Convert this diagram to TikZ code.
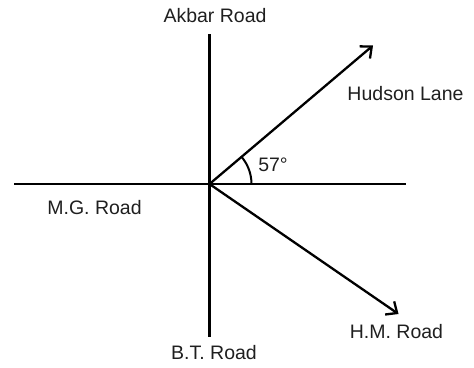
\documentclass[tikz,border=0pt]{standalone}
\usepackage{fontspec}
\setmainfont{Liberation Sans}
\usetikzlibrary{arrows.meta}
\begin{document}
\begin{tikzpicture}[x=1pt,y=-1pt,
  road/.style={line width=2.3pt, draw=black},
  arrowroad/.style={road, -{Straight Barb[length=9pt,width=16pt,line width=2.3pt]}},
  lbl/.style={font=\fontsize{19.5}{22}\selectfont, text=black!88, inner sep=0pt}]
\useasboundingbox (0,0) rectangle (474,367);
\coordinate (O) at (209.5,184);
\coordinate (N) at (209.5,34);
\coordinate (S) at (209.5,337);
\coordinate (W) at (14,184);
\coordinate (E) at (406,184);
\coordinate (HL) at (373,45.5);
\coordinate (HM) at (398.5,314);
\draw[road] (N) -- (S);
\draw[road] (W) -- (E);
\draw[arrowroad] (O) -- (HL);
\draw[arrowroad] (O) -- (HM);
\draw[line width=2pt] ([xshift=42pt]O) arc[start angle=0, end angle=-40.3, radius=42];
\node[lbl] (akbar) at (215,16) {Akbar Road};
\node[lbl] (hudson) at (405.5,94) {Hudson Lane};
\node[lbl] (mg) at (94.5,207.5) {M.G. Road};
\node[lbl] (bt) at (214,352.5) {B.T. Road};
\node[lbl] (hmr) at (396.5,331.5) {H.M. Road};
\node[lbl] (ang) at (273,165) {57°};
\end{tikzpicture}
\end{document}
